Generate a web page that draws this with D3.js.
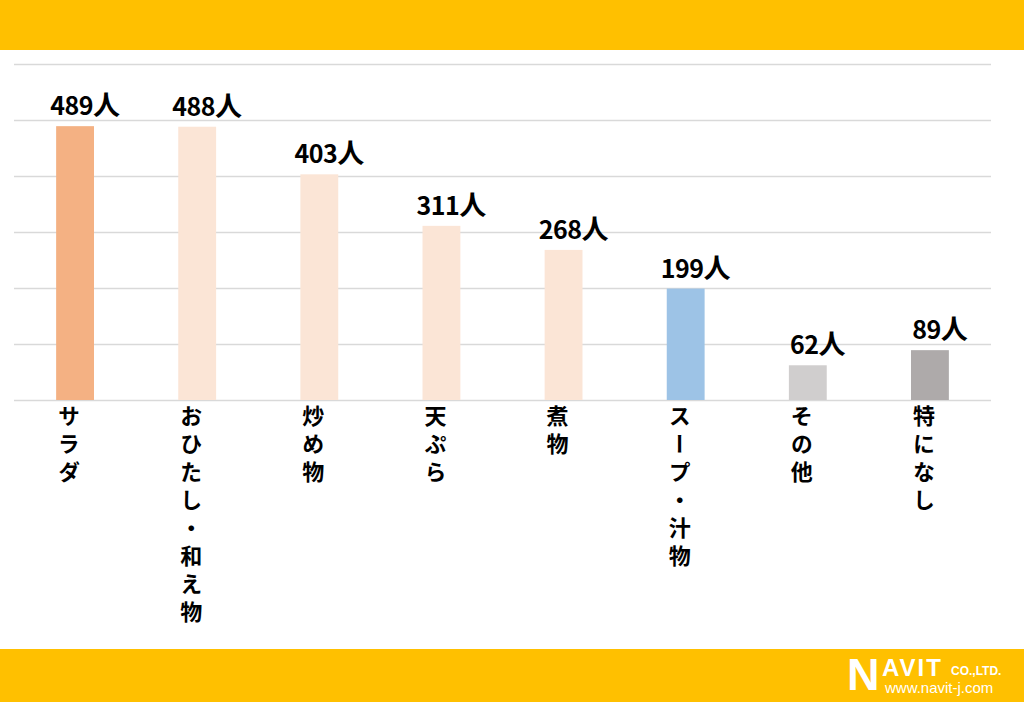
<!DOCTYPE html>
<html><head><meta charset="utf-8">
<script src="https://cdn.jsdelivr.net/npm/d3@7"></script>
<style>
html,body{margin:0;padding:0;background:#fff;}
svg{display:block;}
</style></head>
<body>
<svg id="c" width="1024" height="702"></svg>
<script>
const categories = ["サラダ","おひたし・和え物","炒め物","天ぷら","煮物","スープ・汁物","その他","特になし"];
const values = [489,488,403,311,268,199,62,89];
const barColors = ["#F4B183","#FBE5D6","#FBE5D6","#FBE5D6","#FBE5D6","#9DC3E6","#D0CECE","#AEAAAA"];
const yTicks = [0,100,200,300,400,500,600];
const unit = "人";

const svg = d3.select("#c");
const W = 1024, H = 702;
const yellow = "#FFC000";

svg.append("rect").attr("x",0).attr("y",0).attr("width",W).attr("height",50).attr("fill",yellow);
svg.append("rect").attr("x",0).attr("y",649).attr("width",W).attr("height",H-649).attr("fill",yellow);

const x = d3.scaleBand().domain(categories).range([14,991]).paddingInner(0.69).paddingOuter(0.345);
const y = d3.scaleLinear().domain([0,600]).range([400,64]);

const grid = svg.append("g").attr("transform","translate(14,0)")
  .call(d3.axisLeft(y).tickValues(yTicks).tickSize(-977).tickFormat(""));
grid.select(".domain").remove();
grid.selectAll(".tick line").attr("stroke","#D9D9D9").attr("stroke-width",1.3);

svg.append("g").selectAll("rect").data(values).join("rect")
  .attr("x",(d,i)=>x(categories[i]))
  .attr("y",d=>y(d))
  .attr("width",x.bandwidth())
  .attr("height",d=>y(0)-y(d))
  .attr("fill",(d,i)=>barColors[i]);

const lab = svg.append("g").selectAll("text").data(values).join("text")
  .attr("x",(d,i)=>x(categories[i])+x.bandwidth()/2+10)
  .attr("y",d=>y(d)-11)
  .attr("text-anchor","middle")
  .attr("font-family","'Noto Sans CJK JP','Noto Sans',sans-serif")
  .attr("font-weight","bold")
  .attr("fill","#000");
lab.append("tspan").attr("font-size",25).attr("letter-spacing",-0.5).text(d=>d);
lab.append("tspan").attr("font-size",27).text(unit);

svg.append("g").selectAll("text").data(categories).join("text")
  .attr("transform",(d)=>`translate(${x(d)+x.bandwidth()/2-6},405)`)
  .style("writing-mode","vertical-rl")
  .attr("font-family","'Noto Sans CJK JP',sans-serif")
  .attr("font-weight","bold")
  .attr("font-size",22)
  .attr("letter-spacing",6)
  .attr("fill","#000")
  .text(d=>d);

// logo
const logo = svg.append("g");
logo.append("text").attr("x",847).attr("y",690).attr("font-family","'Liberation Sans',Arial,sans-serif")
  .attr("font-weight","bold").attr("font-size",45).attr("fill","#fff").text("N");
logo.append("text").attr("x",882).attr("y",676).attr("font-family","'Liberation Sans',Arial,sans-serif")
  .attr("font-weight","bold").attr("font-size",24).attr("letter-spacing",2).attr("fill","#fff").text("AVIT");
logo.append("text").attr("x",951).attr("y",675).attr("font-family","'Liberation Sans',Arial,sans-serif")
  .attr("font-weight","bold").attr("font-size",12).attr("fill","#fff").text("CO.,LTD.");
logo.append("text").attr("x",885).attr("y",693).attr("font-family","'Liberation Sans',Arial,sans-serif")
  .attr("font-size",15).attr("fill","#fff").text("www.navit-j.com");
</script>
</body></html>
